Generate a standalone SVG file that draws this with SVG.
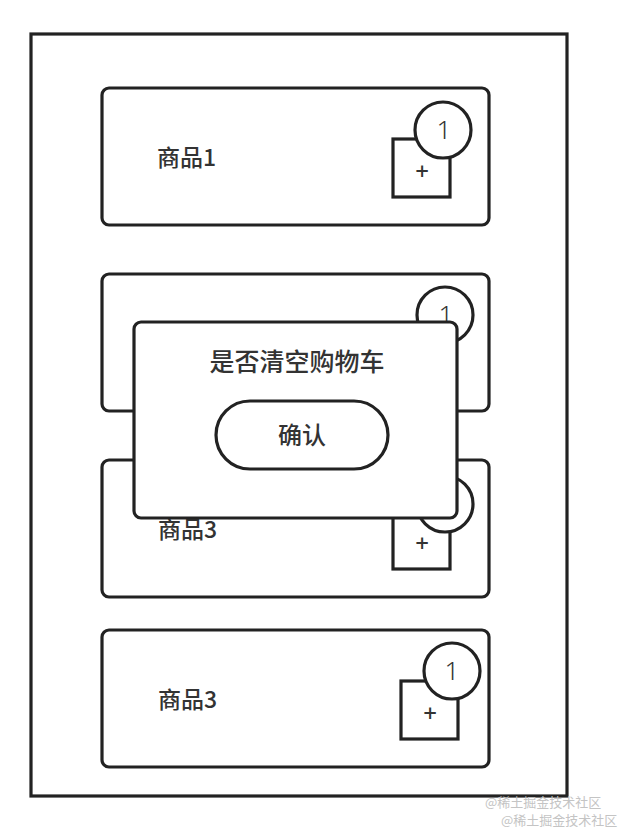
<svg xmlns="http://www.w3.org/2000/svg" width="622" height="830" viewBox="0 0 622 830">
<style>
.box{fill:#fff;stroke:#222;stroke-width:3.2}
.lbl{font-family:"Noto Sans CJK SC","Noto Sans",sans-serif;font-size:23px;font-weight:500;fill:#333}
.ttl{font-family:"Noto Sans CJK SC","Noto Sans",sans-serif;font-size:25px;font-weight:500;fill:#333;text-anchor:middle}
.num{font-family:"Noto Sans","Liberation Sans",sans-serif;font-size:26px;font-weight:300;fill:#333;text-anchor:middle}
.plus{font-family:"Noto Sans","Liberation Sans",sans-serif;font-size:24px;font-weight:500;fill:#333;text-anchor:middle}
.wm{font-family:"Noto Sans CJK SC",sans-serif;font-size:13px;fill:#c4c4c4}
</style>
<rect width="622" height="830" fill="#fff"/>
<g id="frame"><rect class="box" x="31" y="34" width="536" height="762"/></g>
<g id="item1">
<rect class="box" x="102" y="88" width="387" height="137" rx="7"/>
<text class="lbl" x="157" y="166">商品1</text>
<rect class="box" x="393" y="139" width="57" height="58"/>
<text class="plus" x="422" y="180">+</text>
<circle class="box" cx="443" cy="130" r="28"/>
<text class="num" x="444" y="139">1</text>
</g>
<g id="item2">
<rect class="box" x="102" y="274" width="387" height="137" rx="7"/>
<circle class="box" cx="445" cy="315" r="28"/>
<text class="num" x="446" y="324">1</text>
</g>
<g id="item3">
<rect class="box" x="102" y="460" width="387" height="137" rx="7"/>
<text class="lbl" x="158" y="538">商品3</text>
<rect class="box" x="393" y="511" width="57" height="58"/>
<text class="plus" x="422" y="552">+</text>
<circle class="box" cx="445" cy="504" r="28"/>
<text class="num" x="446" y="513">1</text>
</g>
<g id="item4">
<rect class="box" x="102" y="630" width="387" height="137" rx="7"/>
<text class="lbl" x="158" y="708">商品3</text>
<rect class="box" x="401" y="681" width="57" height="58"/>
<text class="plus" x="430" y="722">+</text>
<circle class="box" cx="452" cy="671" r="28"/>
<text class="num" x="452" y="680">1</text>
</g>
<g id="dialog">
<rect class="box" x="134" y="322" width="323" height="196" rx="7"/>
<text class="ttl" x="297" y="371">是否清空购物车</text>
<rect class="box" x="216" y="401" width="172" height="68" rx="34"/>
<text class="ttl" x="302" y="444" style="font-size:24px">确认</text>
</g>
<g id="connectors"></g>
<text class="wm" x="485" y="807">@稀土掘金技术社区</text>
<text class="wm" x="501" y="825">@稀土掘金技术社区</text>
</svg>
